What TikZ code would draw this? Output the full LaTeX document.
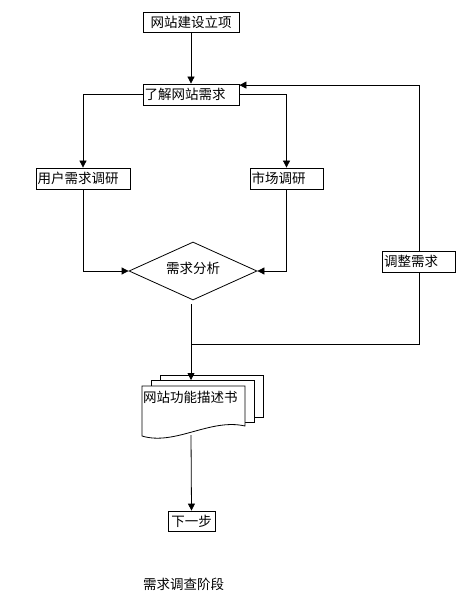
\documentclass[tikz,border=0pt]{standalone}
\usepackage{fontspec}
\newfontfamily\cjk{Noto Sans CJK SC}
\usetikzlibrary{shapes.geometric,arrows.meta,calc}
\begin{document}
\begin{tikzpicture}[x=1pt,y=-1pt,
  every node/.style={font=\cjk\fontsize{13.5}{15}\selectfont},
  box/.style={draw,line width=0.8pt,inner xsep=1.5pt,inner ysep=0pt,minimum height=21pt,align=left},
  arr/.style={line width=0.8pt,-{Triangle[width=7pt,length=7pt]}},
  ln/.style={line width=0.8pt}]
\fill[white] (0,0) rectangle (460,601);
\useasboundingbox (0,0) rectangle (460,601);
% nodes
\node[box,text width=93pt,align=center,minimum height=20pt] (n1) at (191,22) {网站建设立项};
\node[box,text width=93pt] (n2) at (191,94.5) {了解网站需求};
\node[box,text width=91pt] (n3) at (83,178.5) {用户需求调研};
\node[box,text width=70pt] (n4) at (286.5,178.5) {市场调研};
\node[draw,diamond,line width=0.8pt,inner sep=0pt,minimum width=128pt,minimum height=58pt] (dm) at (193,271) {};
\node at (193,268) {需求分析};
\node[box,text width=70pt,fill=white] (n6) at (419,261.5) {调整需求};
\node[box,text width=44pt,align=center,minimum height=20pt] (n7) at (191.5,521) {下一步};
\node (cap) at (183.5,584) {需求调查阶段};
% document shape
\draw[line width=0.8pt,fill=white] (160,375) rectangle (263,417);
\draw[line width=0.8pt,fill=white] (151,380) rectangle (254,422);
\draw[line width=0.8pt,fill=white] (142,386) -- (245,386) -- (245,426)
  .. controls (210,418) and (175,446) .. (142,436) -- cycle;
\node[anchor=west,inner sep=0pt] (doc) at (143,397) {网站功能描述书};
\coordinate (doctop) at (191,380);
\coordinate (docbot) at (191,435);
\coordinate (j) at (191,344);
% connectors
\draw[arr] (n1.south) -- (n2.north);
\draw[arr] (n2.west) -| (n3.north);
\draw[arr] (n2.east) -| (n4.north);
\draw[arr] (n3.south) |- (dm.west);
\draw[arr] (n4.south) |- (dm.east);
\draw[arr,shorten <=4pt] (dm.south -| j) -- (doctop);
\draw[ln] (j) -| (n6.south);
\draw[arr] (n6.north) |- ($(n2.north east)+(0,1.5)$);
\draw[arr] (docbot) -- (n7.north);
\end{tikzpicture}
\end{document}
